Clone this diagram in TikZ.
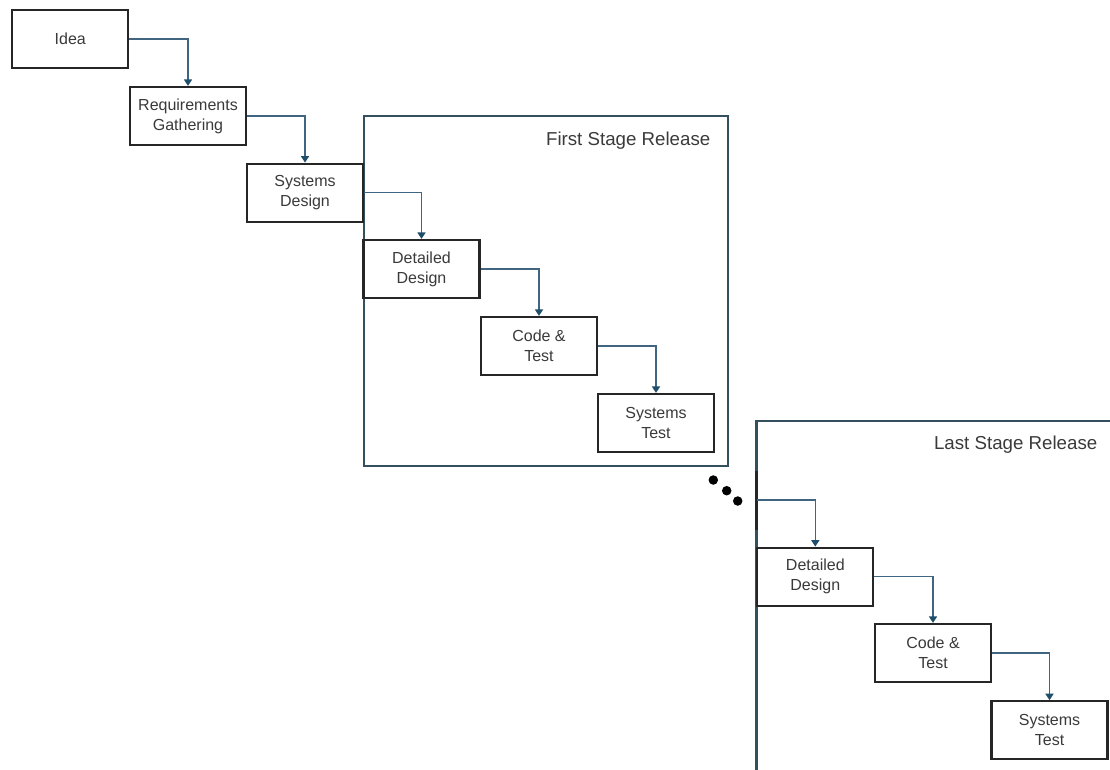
\documentclass[tikz,border=0pt]{standalone}
\usepackage{fontspec}
\setmainfont{Liberation Sans}
\usetikzlibrary{arrows.meta}
\definecolor{boxline}{HTML}{262626}
\definecolor{frameline}{HTML}{34505F}
\definecolor{flowline}{HTML}{3F6580}
\definecolor{flowhead}{HTML}{1F4E6B}
\definecolor{labeltext}{HTML}{3A3A3A}
\begin{document}
\begin{tikzpicture}[x=1pt,y=-1pt,
  stepbox/.style={draw=boxline, fill=white, line width=2.2pt,
    minimum width=116pt, minimum height=58pt, inner sep=0pt,
    align=center, text=labeltext, font=\fontsize{16}{20}\selectfont},
  flow/.style={draw=flowline, line width=1.5pt,
    -{Triangle[width=8pt,length=6.5pt,fill=flowhead,color=flowhead]}},
  stageframe/.style={draw=frameline, line width=2.1pt},
  stagelabel/.style={anchor=east, text=labeltext, inner sep=0pt,
    font=\fontsize{18.7}{22}\selectfont},
  dot/.style={circle, fill=black, minimum size=9.5pt, inner sep=0pt}]
\useasboundingbox (0,0) rectangle (1110,769);

% stage frames
\draw[stageframe] (364,115.7) rectangle (727.7,465.7);
\node[stagelabel] (firstlbl) at (710.5,140.7) {First Stage Release};
\draw[stageframe] (756.5,771) -- (756.5,420.7) -- (1112,420.7);
\node[stagelabel] (lastlbl) at (1097.5,445) {Last Stage Release};

% ellipsis between releases
\node[dot] (d1) at (713.3,480) {};
\node[dot] (d2) at (726.7,490.7) {};
\node[dot] (d3) at (737.7,501) {};

% phases
\node[stepbox] (idea) at (70.3,39) {Idea};
\node[stepbox] (req)  at (188,116)   {Requirements\\Gathering};
\node[stepbox] (sd)   at (305,192.7) {Systems\\Design};
\node[stepbox] (dd1)  at (421.5,269) {Detailed\\Design};
\node[stepbox] (ct1)  at (539,346)   {Code \&\\Test};
\node[stepbox] (st1)  at (656,423)   {Systems\\Test};
\node[stepbox] (dd2)  at (815.3,576.7) {Detailed\\Design};
\node[stepbox] (ct2)  at (933,653)   {Code \&\\Test};
\node[stepbox] (st2)  at (1049.5,730.3) {Systems\\Test};

% edge of the preceding design step on the last frame
\coordinate (prev) at (756.5,500);
\draw[boxline, line width=2.2pt] (756.5,470.5) -- (756.5,529.5);

% flow
\draw[flow] (idea.east) -| (req.north);
\draw[flow] (req.east)  -| (sd.north);
\draw[flow] (sd.east)   -| (dd1.north);
\draw[flow] (dd1.east)  -| (ct1.north);
\draw[flow] (ct1.east)  -| (st1.north);
\draw[flow] (prev)      -| (dd2.north);
\draw[flow] (dd2.east)  -| (ct2.north);
\draw[flow] (ct2.east)  -| (st2.north);
\end{tikzpicture}
\end{document}
